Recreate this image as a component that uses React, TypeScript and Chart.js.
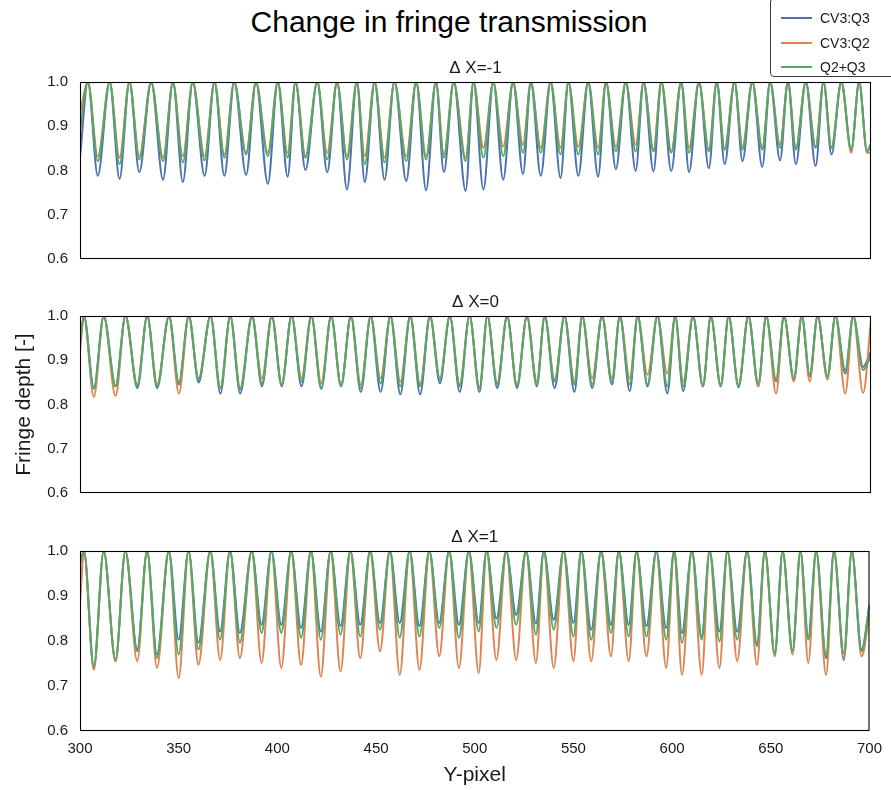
import React, { useEffect, useRef } from "react";
import { Chart, registerables } from "chart.js";

Chart.register(...registerables);

const FONT = '"Liberation Sans", Arial, Helvetica, sans-serif';
const FIG_TITLE = "Change in fringe transmission";
const SERIES_NAMES = ["CV3:Q3", "CV3:Q2", "Q2+Q3"];
const SERIES_COLORS = ["#4C72B0", "#DD8452", "#55A868"];
const PANEL_TITLES = ["\u0394 X=-1", "\u0394 X=0", "\u0394 X=1"];
const X_LABEL = "Y-pixel";
const Y_LABEL = "Fringe depth [-]";
const X_TICKS = [300, 350, 400, 450, 500, 550, 600, 650, 700];
const Y_TICKS = [0.6, 0.7, 0.8, 0.9, 1.0];

// Y-pixel positions of the start, each fringe peak / trough, and the end
const X_P1 = [300, 304, 309, 315, 320, 325, 330, 336, 342, 347, 352, 357, 363, 368, 373, 378, 384, 389, 395, 400, 405, 409, 414, 420, 425, 430, 435, 440, 444, 449, 454, 459, 465, 470, 475, 480, 484, 489, 495, 499, 504, 509, 514, 519, 524, 528, 533, 538, 543, 547, 552, 557, 562, 566, 571, 576, 581, 585, 590, 594, 599, 604, 608, 613, 618, 622, 626, 631, 635, 640, 645, 649, 654, 658, 662, 667, 672, 676, 680, 685, 690, 694, 698, 700];
const X_P23 = [300, 302, 307, 312, 318, 323, 329, 334, 339, 345, 350, 355, 360, 366, 371, 376, 381, 387, 392, 397, 402, 407, 412, 417, 422, 427, 432, 437, 442, 447, 452, 457, 462, 467, 472, 477, 482, 487, 492, 497, 502, 506, 511, 516, 521, 526, 531, 535, 540, 545, 550, 554, 559, 564, 569, 573, 578, 582, 587, 592, 597, 601, 605, 610, 615, 619, 624, 628, 633, 638, 643, 647, 652, 656, 661, 665, 669, 673, 678, 682, 687, 691, 696, 700];

// peak values (fringe maxima)
const PEAKS_P1 = [1.0, 1.0, 1.0, 1.0, 1.0, 1.0, 1.0, 1.0, 1.0, 1.0, 1.0, 1.0, 1.0, 1.0, 1.0, 1.0, 1.0, 1.0, 1.0, 1.0, 1.0, 1.0, 1.0, 1.0, 1.0, 1.0, 1.0, 1.0, 1.0, 1.0, 1.0, 1.0, 1.0, 1.0, 1.0, 1.0, 1.0, 1.0, 1.0, 1.0, 1.0];
const PEAKS_P2 = [1.0, 1.0, 1.0, 1.0, 1.0, 1.0, 1.0, 1.0, 1.0, 1.0, 1.0, 1.0, 1.0, 1.0, 1.0, 1.0, 1.0, 1.0, 1.0, 1.0, 1.0, 1.0, 1.0, 1.0, 1.0, 1.0, 1.0, 1.0, 1.0, 1.0, 1.0, 1.0, 1.0, 1.0, 1.0, 1.0, 1.0, 1.0, 1.0, 1.0, 1.0];
const PEAKS_P3 = [1.0, 1.0, 1.0, 1.0, 1.0, 1.0, 1.0, 1.0, 1.0, 1.0, 1.0, 1.0, 1.0, 1.0, 1.0, 1.0, 1.0, 1.0, 1.0, 1.0, 1.0, 1.0, 1.0, 1.0, 1.0, 1.0, 1.0, 1.0, 1.0, 1.0, 1.0, 1.0, 1.0, 1.0, 1.0, 1.0, 1.0, 1.0, 1.0, 1.0, 1.0];

// trough values (fringe minima), panel ΔX=-1
const P1_CV3Q3 = [0.788, 0.781, 0.796, 0.779, 0.774, 0.788, 0.788, 0.790, 0.770, 0.786, 0.801, 0.796, 0.757, 0.774, 0.779, 0.776, 0.755, 0.796, 0.754, 0.757, 0.779, 0.792, 0.788, 0.783, 0.788, 0.786, 0.803, 0.799, 0.798, 0.799, 0.796, 0.805, 0.814, 0.821, 0.808, 0.823, 0.814, 0.810, 0.836, 0.845, 0.843];
const P1_CV3Q2 = [0.832, 0.829, 0.832, 0.829, 0.832, 0.832, 0.836, 0.840, 0.840, 0.840, 0.832, 0.840, 0.832, 0.832, 0.829, 0.832, 0.832, 0.836, 0.829, 0.851, 0.854, 0.858, 0.851, 0.851, 0.854, 0.851, 0.854, 0.858, 0.847, 0.843, 0.851, 0.847, 0.847, 0.854, 0.851, 0.858, 0.851, 0.854, 0.851, 0.840, 0.840];
const P1_Q2Q3 = [0.821, 0.814, 0.825, 0.821, 0.818, 0.823, 0.829, 0.836, 0.832, 0.829, 0.829, 0.825, 0.825, 0.814, 0.818, 0.821, 0.825, 0.829, 0.821, 0.829, 0.832, 0.840, 0.840, 0.836, 0.836, 0.836, 0.843, 0.843, 0.843, 0.840, 0.840, 0.843, 0.847, 0.847, 0.847, 0.851, 0.847, 0.851, 0.851, 0.847, 0.843];
const P1_START = [0.83, 0.93, 0.89];
const P1_END = [0.86, 0.84, 0.86];

// panel ΔX=0
const P2_CV3Q3 = [0.837, 0.841, 0.837, 0.837, 0.845, 0.850, 0.825, 0.825, 0.841, 0.841, 0.841, 0.835, 0.841, 0.828, 0.828, 0.823, 0.823, 0.848, 0.828, 0.828, 0.837, 0.837, 0.841, 0.837, 0.828, 0.837, 0.845, 0.830, 0.841, 0.825, 0.830, 0.841, 0.841, 0.839, 0.841, 0.852, 0.856, 0.863, 0.863, 0.870, 0.885];
const P2_CV3Q2 = [0.817, 0.819, 0.845, 0.845, 0.825, 0.859, 0.837, 0.837, 0.859, 0.845, 0.859, 0.848, 0.845, 0.845, 0.859, 0.852, 0.845, 0.859, 0.845, 0.837, 0.848, 0.845, 0.852, 0.856, 0.852, 0.859, 0.859, 0.859, 0.867, 0.870, 0.852, 0.841, 0.845, 0.845, 0.841, 0.825, 0.852, 0.852, 0.856, 0.825, 0.826];
const P2_Q2Q3 = [0.835, 0.841, 0.841, 0.841, 0.850, 0.856, 0.837, 0.834, 0.848, 0.845, 0.852, 0.837, 0.841, 0.837, 0.848, 0.841, 0.841, 0.856, 0.841, 0.837, 0.845, 0.841, 0.845, 0.852, 0.845, 0.845, 0.850, 0.845, 0.845, 0.841, 0.841, 0.841, 0.841, 0.841, 0.848, 0.856, 0.859, 0.867, 0.863, 0.878, 0.878];
const P2_START = [0.945, 0.92, 0.94];
const P2_END = [0.92, 0.99, 0.91];

// panel ΔX=1
const P3_CV3Q3 = [0.740, 0.755, 0.781, 0.770, 0.803, 0.796, 0.821, 0.818, 0.836, 0.836, 0.829, 0.821, 0.833, 0.836, 0.840, 0.840, 0.833, 0.840, 0.836, 0.840, 0.850, 0.858, 0.839, 0.847, 0.840, 0.825, 0.836, 0.836, 0.833, 0.829, 0.818, 0.810, 0.821, 0.821, 0.792, 0.773, 0.777, 0.807, 0.762, 0.758, 0.781];
const P3_CV3Q2 = [0.736, 0.755, 0.755, 0.740, 0.718, 0.747, 0.758, 0.762, 0.751, 0.740, 0.747, 0.721, 0.732, 0.762, 0.777, 0.725, 0.736, 0.766, 0.740, 0.729, 0.758, 0.758, 0.751, 0.740, 0.755, 0.755, 0.766, 0.755, 0.766, 0.740, 0.725, 0.725, 0.740, 0.755, 0.747, 0.766, 0.770, 0.751, 0.725, 0.762, 0.766];
const P3_Q2Q3 = [0.744, 0.758, 0.777, 0.762, 0.770, 0.781, 0.803, 0.796, 0.818, 0.818, 0.807, 0.803, 0.814, 0.810, 0.825, 0.807, 0.810, 0.829, 0.807, 0.821, 0.829, 0.836, 0.814, 0.825, 0.810, 0.803, 0.818, 0.810, 0.810, 0.803, 0.796, 0.803, 0.799, 0.803, 0.788, 0.770, 0.777, 0.803, 0.766, 0.773, 0.777];
const P3_START = [0.973, 0.884, 0.97];
const P3_END = [0.88, 0.86, 0.88];

type Panel = {
  title: string;
  x: number[];
  peaks: number[];
  troughs: number[][];
  start: number[];
  end: number[];
};

const PANELS: Panel[] = [
  { title: PANEL_TITLES[0], x: X_P1, peaks: PEAKS_P1, troughs: [P1_CV3Q3, P1_CV3Q2, P1_Q2Q3], start: P1_START, end: P1_END },
  { title: PANEL_TITLES[1], x: X_P23, peaks: PEAKS_P2, troughs: [P2_CV3Q3, P2_CV3Q2, P2_Q2Q3], start: P2_START, end: P2_END },
  { title: PANEL_TITLES[2], x: X_P23, peaks: PEAKS_P3, troughs: [P3_CV3Q3, P3_CV3Q2, P3_Q2Q3], start: P3_START, end: P3_END },
];

// canvas placement (top, height, bottom padding)
const CANVAS = [
  { top: 50, height: 230, padBottom: 16 },
  { top: 284, height: 230, padBottom: 17 },
  { top: 519, height: 271, padBottom: 0 },
];

function buildPoints(p: Panel, s: number) {
  const pts: { x: number; y: number }[] = [{ x: p.x[0], y: p.start[s] }];
  for (let i = 0; i < p.peaks.length; i++) {
    pts.push({ x: p.x[1 + 2 * i], y: p.peaks[i] });
    pts.push({ x: p.x[2 + 2 * i], y: p.troughs[s][i] });
  }
  pts.push({ x: p.x[p.x.length - 1], y: p.end[s] });
  return pts;
}

const framePlugin = {
  id: "frame",
  afterDatasetsDraw(chart: any) {
    const { ctx, chartArea } = chart;
    const { left, top, right, bottom } = chartArea;
    ctx.save();
    ctx.strokeStyle = "#000";
    ctx.lineWidth = 1.1;
    ctx.strokeRect(left + 0.5, top + 0.5, right - left - 1, bottom - top - 1);
    ctx.restore();
  },
};

function makeConfig(p: Panel, idx: number): any {
  const isBottom = idx === 2;
  const xScale: any = {
    type: "linear",
    min: 300,
    max: 700,
    display: isBottom,
    afterBuildTicks: (s: any) => {
      s.ticks = X_TICKS.map((v) => ({ value: v }));
    },
    ticks: {
      color: "#1a1a1a",
      font: { family: FONT, size: 15 },
      padding: 9,
      maxRotation: 0,
      autoSkip: false,
    },
    grid: { display: false, drawTicks: false },
    border: { display: false },
    title: {
      display: isBottom,
      text: X_LABEL,
      color: "#1a1a1a",
      font: { family: FONT, size: 21 },
      padding: { top: 0, bottom: 2.4 },
    },
  };
  if (isBottom) {
    xScale.afterFit = (s: any) => {
      s.height = 59;
    };
  }
  return {
    type: "line",
    data: {
      datasets: SERIES_NAMES.map((name, s) => ({
        label: name,
        data: buildPoints(p, s),
        borderColor: SERIES_COLORS[s],
        backgroundColor: SERIES_COLORS[s],
        borderWidth: 2,
        pointRadius: 0,
        fill: false,
        cubicInterpolationMode: "monotone",
        order: 2 - s,
      })),
    },
    options: {
      animation: false,
      responsive: false,
      maintainAspectRatio: false,
      devicePixelRatio: 1,
      layout: { padding: { left: 0, right: 20, top: 0, bottom: CANVAS[idx].padBottom } },
      plugins: {
        legend: { display: false },
        tooltip: { enabled: false },
        title: {
          display: true,
          text: p.title,
          fullSize: false,
          color: "#1a1a1a",
          font: { family: FONT, size: 17, weight: "normal" },
          padding: { top: 7.8, bottom: 3.8 },
        },
      },
      scales: {
        x: xScale,
        y: {
          type: "linear",
          min: 0.6,
          max: 1.0,
          afterBuildTicks: (s: any) => {
            s.ticks = Y_TICKS.map((v) => ({ value: v }));
          },
          afterFit: (s: any) => {
            s.width = 80;
          },
          ticks: {
            color: "#1a1a1a",
            font: { family: FONT, size: 15 },
            padding: 12,
            callback: (v: any) => Number(v).toFixed(1),
          },
          grid: { display: false, drawTicks: false },
          border: { display: false },
          title: {
            display: idx === 1,
            text: Y_LABEL,
            color: "#1a1a1a",
            font: { family: FONT, size: 21 },
            padding: { top: 11.4, bottom: 0 },
          },
        },
      },
    },
    plugins: [framePlugin],
  };
}

export default function App() {
  const r0 = useRef<HTMLCanvasElement>(null);
  const r1 = useRef<HTMLCanvasElement>(null);
  const r2 = useRef<HTMLCanvasElement>(null);
  const refs = [r0, r1, r2];

  useEffect(() => {
    const charts = PANELS.map((p, i) => new Chart(refs[i].current as HTMLCanvasElement, makeConfig(p, i)));
    return () => charts.forEach((c) => c.destroy());
  }, []);

  return (
    <div
      style={{
        position: "absolute",
        left: 0,
        top: 0,
        width: 891,
        height: 790,
        overflow: "hidden",
        background: "#fff",
        fontFamily: FONT,
        color: "#1a1a1a",
      }}
    >
      <div
        style={{
          position: "absolute",
          left: 0,
          top: 5,
          width: 898,
          textAlign: "center",
          fontSize: 30,
          lineHeight: "34px",
          color: "#000",
        }}
      >
        {FIG_TITLE}
      </div>
      {CANVAS.map((c, i) => (
        <canvas
          key={i}
          ref={refs[i]}
          width={891}
          height={c.height}
          style={{ position: "absolute", left: 0, top: c.top, width: 891, height: c.height }}
        />
      ))}
      <div
        style={{
          position: "absolute",
          left: 770,
          top: -2,
          width: 140,
          height: 79,
          boxSizing: "border-box",
          border: "1px solid #3a3a3a",
          borderRadius: 4,
          background: "rgba(255,255,255,0.85)",
          zIndex: 5,
        }}
      >
        {SERIES_NAMES.map((name, s) => (
          <div key={name} style={{ position: "absolute", left: 0, top: 10 + s * 24.5, height: 18, width: 140 }}>
            <div
              style={{
                position: "absolute",
                left: 10,
                top: 8,
                width: 31,
                height: 2,
                background: SERIES_COLORS[s],
              }}
            />
            <div style={{ position: "absolute", left: 49, top: 0, fontSize: 14, lineHeight: "18px", whiteSpace: "nowrap" }}>
              {name}
            </div>
          </div>
        ))}
      </div>
    </div>
  );
}
